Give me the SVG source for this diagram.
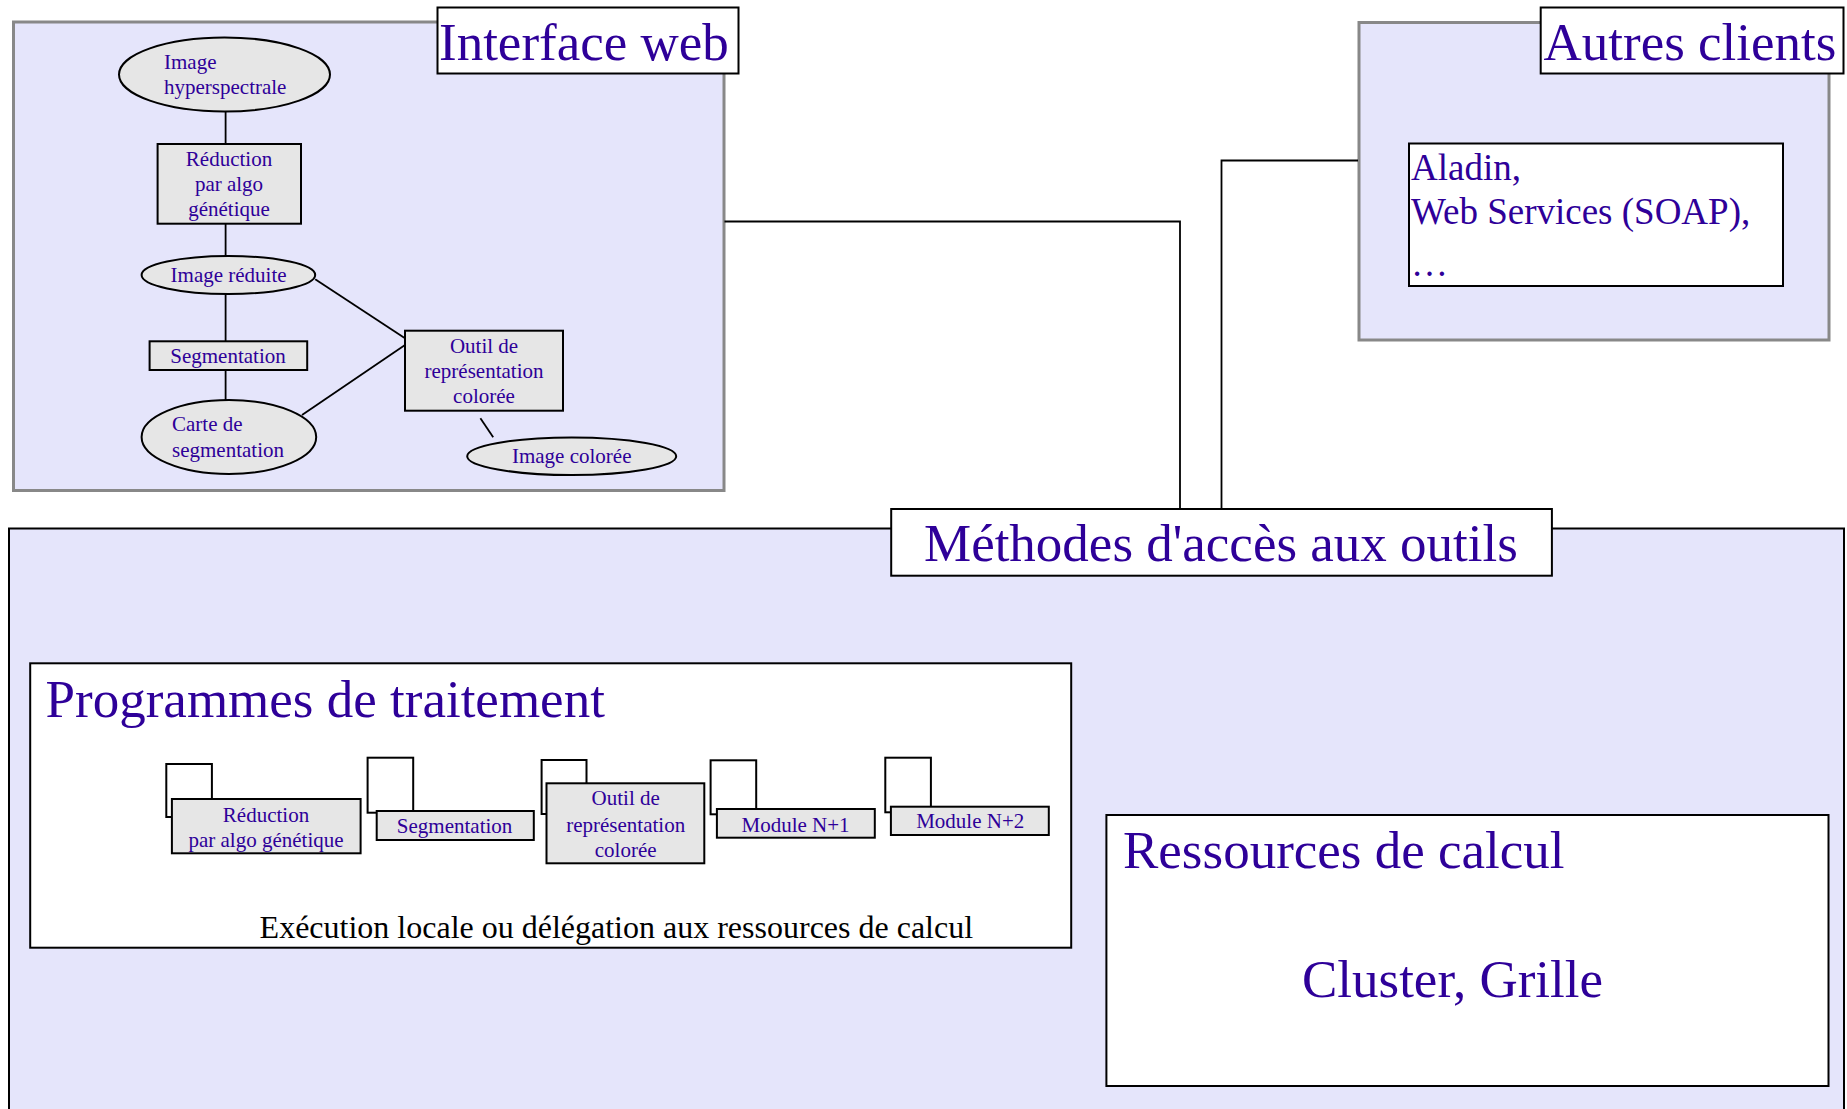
<svg xmlns="http://www.w3.org/2000/svg" width="1847" height="1109" viewBox="0 0 1847 1109">
<style>
text{font-family:"Liberation Serif","Times New Roman",serif;fill:#2E0099}
.t53{font-size:53px}
.t21{font-size:21px}
.t37{font-size:37px}
.c{text-anchor:middle}
.zone{fill:#E5E5FB;stroke:#888;stroke-width:3}
.title{fill:#fff;stroke:#000;stroke-width:2}
.white{fill:#fff;stroke:#000;stroke-width:2}
.node{fill:#E6E6E6;stroke:#000;stroke-width:2}
.ln{fill:none;stroke:#000;stroke-width:1.8}
</style>
<rect width="1847" height="1109" fill="#fff"/>

<g id="zone-methodes">
<rect x="9" y="528.5" width="1835" height="600" fill="#E5E5FB" stroke="#000" stroke-width="2"/>
</g>

<g id="zone-interface">
<rect class="zone" x="13.5" y="22" width="710.5" height="468.5"/>
</g>

<g id="zone-autres">
<rect class="zone" x="1359" y="22.5" width="470" height="317.5"/>
</g>

<g id="connectors">
<polyline class="ln" points="724.5,221.5 1180,221.5 1180,509"/>
<polyline class="ln" points="1221.5,509 1221.5,160.5 1358,160.5"/>
<line class="ln" x1="225.6" y1="111.7" x2="225.6" y2="144"/>
<line class="ln" x1="225.6" y1="223.7" x2="225.6" y2="256"/>
<line class="ln" x1="225.6" y1="294" x2="225.6" y2="341.3"/>
<line class="ln" x1="225.6" y1="370" x2="225.6" y2="400"/>
<line class="ln" x1="315.2" y1="279.3" x2="405" y2="338.3"/>
<line class="ln" x1="302" y1="415" x2="405" y2="345"/>
<line class="ln" x1="480.4" y1="418.3" x2="493.2" y2="437.3"/>
</g>

<g id="title-interface">
<rect class="title" x="437.5" y="7.5" width="301" height="66"/>
<text class="t53" x="439" y="60">Interface web</text>
</g>

<g id="image-hyperspectrale">
<ellipse class="node" cx="224.5" cy="74.5" rx="105.5" ry="37"/>
<text class="t21" x="164" y="69">Image</text>
<text class="t21" x="164" y="94">hyperspectrale</text>
</g>

<g id="reduction">
<rect class="node" x="157.6" y="144" width="143.4" height="79.7"/>
<text class="t21 c" x="229" y="166">Réduction</text>
<text class="t21 c" x="229" y="191">par algo</text>
<text class="t21 c" x="229" y="216">génétique</text>
</g>

<g id="image-reduite">
<ellipse class="node" cx="228.4" cy="275" rx="86.8" ry="19"/>
<text class="t21 c" x="228.6" y="282">Image réduite</text>
</g>

<g id="segmentation">
<rect class="node" x="149.6" y="341.3" width="157.6" height="28.7"/>
<text class="t21 c" x="228" y="363">Segmentation</text>
</g>

<g id="carte-segmentation">
<ellipse class="node" cx="228.9" cy="437" rx="87.3" ry="37"/>
<text class="t21" x="172" y="431">Carte de</text>
<text class="t21" x="172" y="457">segmentation</text>
</g>

<g id="outil-representation">
<rect class="node" x="405" y="330.7" width="158" height="80"/>
<text class="t21 c" x="484" y="352.7">Outil de</text>
<text class="t21 c" x="484" y="378.3">représentation</text>
<text class="t21 c" x="484" y="403.3">colorée</text>
</g>

<g id="image-coloree">
<ellipse class="node" cx="571.7" cy="456.2" rx="104.5" ry="18.8"/>
<text class="t21 c" x="571.7" y="463">Image colorée</text>
</g>

<g id="title-autres">
<rect class="title" x="1540.7" y="7.5" width="302.8" height="66"/>
<text class="t53" x="1543.5" y="60">Autres clients</text>
</g>

<g id="clients-list">
<rect class="white" x="1409" y="143.5" width="374" height="142.5"/>
<text class="t37" x="1411" y="180">Aladin,</text>
<text class="t37" x="1411" y="224">Web Services (SOAP),</text>
<text class="t37" x="1411" y="276">…</text>
</g>

<g id="title-methodes">
<rect class="title" x="891.2" y="509" width="660.7" height="66.7"/>
<text class="t53" x="924" y="561">Méthodes d'accès aux outils</text>
</g>

<g id="programmes">
<rect class="white" x="30.2" y="663.3" width="1041" height="284.4"/>
<text class="t53" x="45.6" y="716.7">Programmes de traitement</text>
<text x="259.6" y="938.3" style="font-size:32px;fill:#000">Exécution locale ou délégation aux ressources de calcul</text>
</g>

<g id="module-reduction">
<rect class="white" x="166.3" y="764" width="45.6" height="53"/>
<rect class="node" x="171.9" y="799" width="188.7" height="54.3"/>
<text class="t21 c" x="266" y="821.7">Réduction</text>
<text class="t21 c" x="266" y="846.7">par algo génétique</text>
</g>

<g id="module-segmentation">
<rect class="white" x="367.6" y="757.7" width="45.6" height="55"/>
<rect class="node" x="376.7" y="811" width="157.1" height="29"/>
<text class="t21 c" x="454.6" y="833.3">Segmentation</text>
</g>

<g id="module-outil">
<rect class="white" x="541.6" y="760" width="44.9" height="54"/>
<rect class="node" x="546.5" y="783.3" width="157.8" height="80"/>
<text class="t21 c" x="625.7" y="805">Outil de</text>
<text class="t21 c" x="625.7" y="831.7">représentation</text>
<text class="t21 c" x="625.7" y="856.7">colorée</text>
</g>

<g id="module-n1">
<rect class="white" x="710.6" y="760.3" width="45.6" height="54"/>
<rect class="node" x="716.9" y="809" width="157.9" height="28.7"/>
<text class="t21 c" x="795.5" y="831.7">Module N+1</text>
</g>

<g id="module-n2">
<rect class="white" x="885.3" y="757.7" width="45.6" height="54.6"/>
<rect class="node" x="890.9" y="806.7" width="157.9" height="28.3"/>
<text class="t21 c" x="970.2" y="828.3">Module N+2</text>
</g>

<g id="ressources">
<rect class="white" x="1106.4" y="815" width="722.1" height="271"/>
<text class="t53" x="1123" y="868.3">Ressources de calcul</text>
<text class="t53 c" x="1452.5" y="996.7">Cluster, Grille</text>
</g>
</svg>
